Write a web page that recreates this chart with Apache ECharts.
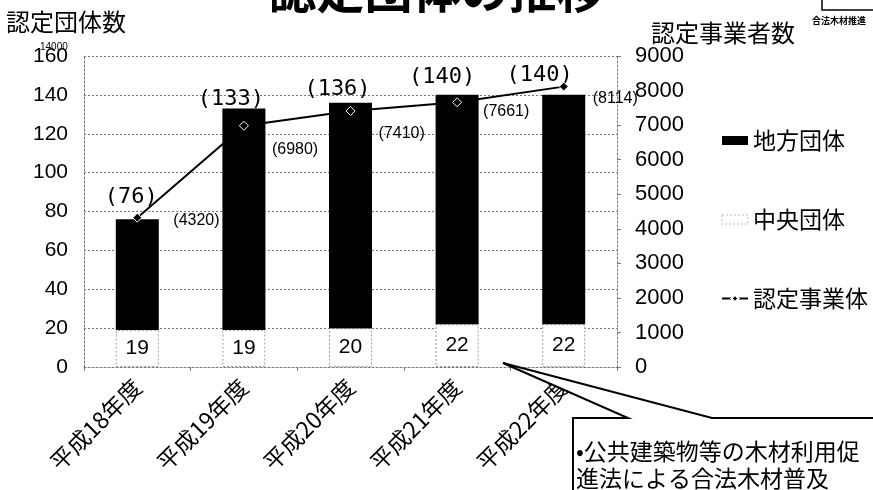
<!DOCTYPE html>
<html><head><meta charset="utf-8">
<script src="https://cdn.jsdelivr.net/npm/echarts@6/dist/echarts.min.js"></script>
<style>html,body{margin:0;padding:0;background:#fff}#c{width:873px;height:490px}</style>
</head><body><div id="c"></div>
<script>
const categories = ['平成18年度','平成19年度','平成20年度','平成21年度','平成22年度'];
const chuoDantai = [19, 19, 20, 22, 22];
const chihoDantai = [57, 114, 116, 118, 118];
const totalDantai = [76, 133, 136, 140, 140];
const jigyotai = [4320, 6980, 7410, 7661, 8114];
const leftTicks = [0, 20, 40, 60, 80, 100, 120, 140, 160];
const rightTicks = [0, 1000, 2000, 3000, 4000, 5000, 6000, 7000, 8000, 9000];

// label placement styles (not data)
const totalLabelOffsets = [[-6,-6],[-13,7],[-13,3],[-15,-2],[-24,-4]];
const lineLabelOffsets = [[26,3],[18,24],[18,23],[16,9],[19,12]];

const FONT = "'Liberation Sans','Noto Sans CJK JP',sans-serif";
const JP = "'Noto Sans CJK JP',sans-serif";
const chart = echarts.init(document.getElementById('c'), null, {renderer:'canvas'});
const dotted = {color:'#777', type:[2,2], width:1};

chart.setOption({
  animation:false,
  backgroundColor:'#fff',
  textStyle:{fontFamily:FONT},
  title:{text:'認定団体の推移', left:'center', top:-39, itemGap:0,
    textStyle:{fontFamily:JP, fontSize:48, fontWeight:'bold', color:'#000'}},
  legend:{orient:'vertical', left:716, top:124, itemGap:56, itemWidth:26, itemHeight:9,
    data:[{name:'地方団体', icon:'rect'}, {name:'中央団体', icon:'rect', itemStyle:{borderColor:'#ddd', borderType:[2,2]}}, {name:'認定事業体'}],
    textStyle:{fontFamily:JP, fontSize:23, color:'#000'}},
  grid:{left:84, right:256, top:56, bottom:123},
  xAxis:{type:'category', data:categories, boundaryGap:true,
     axisLine:{lineStyle:dotted}, axisTick:{show:true, length:4, lineStyle:{color:'#777'}},
     axisLabel:{rotate:45, fontSize:23, color:'#000', margin:16, fontFamily:JP}},
  yAxis:[
    {type:'value', min:leftTicks[0], max:leftTicks[leftTicks.length-1], interval:20,
     name:'認定団体数', nameLocation:'end', nameGap:0,
     nameTextStyle:{fontFamily:JP, fontSize:24, color:'#000', align:'left', padding:[0,0,22,-78]},
     axisLine:{show:true, lineStyle:dotted}, axisTick:{show:false},
     axisLabel:{fontSize:21, color:'#000', margin:16},
     splitLine:{show:true, lineStyle:dotted}},
    {type:'value', position:'right', min:rightTicks[0], max:rightTicks[rightTicks.length-1], interval:1000,
     name:'認定事業者数', nameLocation:'end', nameGap:0,
     nameTextStyle:{fontFamily:JP, fontSize:24, color:'#000', align:'left', padding:[0,0,10,34]},
     axisLine:{show:true, lineStyle:dotted}, axisTick:{show:true, length:4, lineStyle:{color:'#777'}},
     axisLabel:{fontSize:22, color:'#000', margin:18, formatter:v=>String(v)},
     splitLine:{show:false}}
  ],
  graphic:[
    {type:'text', left:40, top:42, style:{text:'14000', fontSize:10, fill:'#000', fontFamily:FONT}},
    {type:'rect', shape:{x:822, y:-10, width:60, height:20}, style:{fill:'#fff', stroke:'#000', lineWidth:1.5}},
    {type:'text', left:812, top:16, style:{text:'合法木材推進', fontSize:9, fontWeight:'bold', fill:'#000', fontFamily:JP}},
    {type:'polygon', shape:{points:[[573,500],[573,418],[628,418],[503,363],[712,418],[890,418],[890,500]]},
     style:{fill:'#fff', stroke:'#000', lineWidth:2}, z:10},
    {type:'text', left:576, top:438, z:11, style:{text:'•公共建築物等の木材利用促\n進法による合法木材普及', fontSize:23, lineHeight:27, fill:'#000', fontFamily:JP}}
  ],
  series:[
    {name:'中央団体', type:'bar', stack:'d', yAxisIndex:0, barWidth:43,
     data:chuoDantai,
     itemStyle:{color:'#fff', borderColor:'#999', borderWidth:1, borderType:[2,2]},
     label:{show:true, position:'inside', fontSize:21, color:'#000'}},
    {name:'地方団体', type:'bar', stack:'d', yAxisIndex:0, barWidth:43,
     data:chihoDantai.map((v,i)=>({value:v, label:{offset:totalLabelOffsets[i]}})),
     itemStyle:{color:'#000'},
     label:{show:true, position:'top', fontSize:22, color:'#000', fontFamily:"'DejaVu Sans Mono',monospace",
       formatter:p=>'('+totalDantai[p.dataIndex]+')'}},
    {name:'認定事業体', type:'line', yAxisIndex:1, z:5,
     data:jigyotai.map((v,i)=>({value:v, label:{offset:lineLabelOffsets[i]}})),
     symbol:'diamond', symbolSize:9,
     lineStyle:{color:'#000', width:2},
     itemStyle:{color:'#000', borderColor:'#fff', borderWidth:1},
     label:{show:true, position:'right', fontSize:16, color:'#000', formatter:p=>'('+p.value+')'}}
  ]
});
</script>
</body></html>
